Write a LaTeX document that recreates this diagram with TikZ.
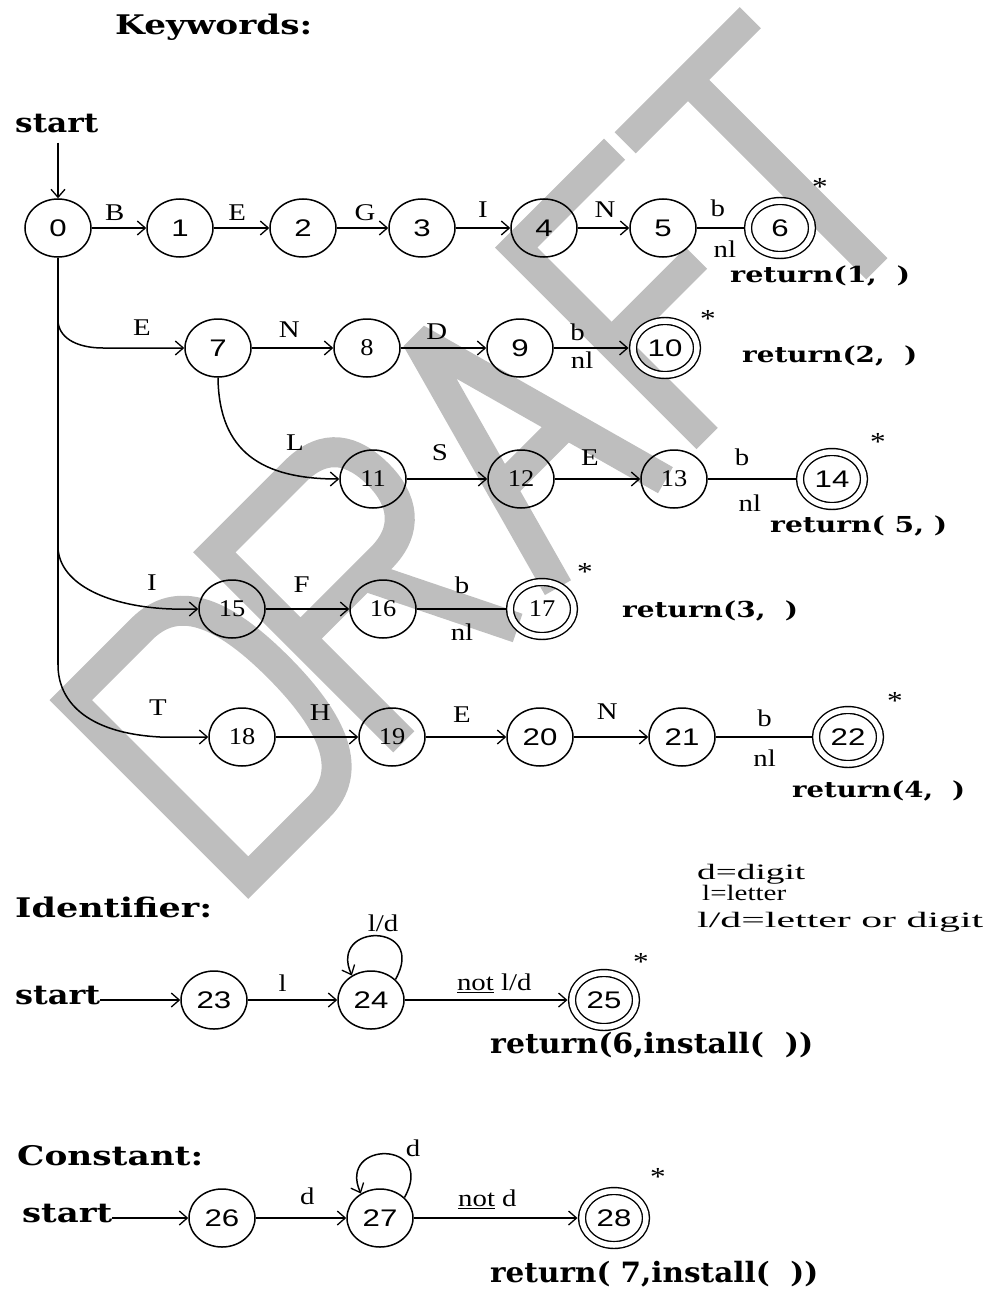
\documentclass[tikz,border=0pt]{standalone}
\usepackage{fontspec}
\usepackage{graphicx}
\setmainfont{Liberation Serif}
\newfontfamily\labfont{Liberation Serif}[FakeStretch=1.2]
\newfontfamily\sansnum{Liberation Sans}[FakeStretch=1.3]
\newfontfamily\serifnum{Liberation Serif}[FakeStretch=1.1]
\newfontfamily\headfont{DejaVu Serif}
\usetikzlibrary{arrows.meta,shapes.geometric}
\definecolor{wm}{RGB}{190,190,190}
\newcommand{\fitw}[2]{\resizebox{#1}{\height}{#2}}
\tikzset{
  st/.style={draw, ellipse, line width=1.5pt, minimum width=66pt, minimum height=58pt, inner sep=0pt,
    font=\sansnum\fontsize{24}{24}\selectfont},
  acc/.style={draw, ellipse, line width=1.4pt, double, double distance=5.5pt, minimum width=64pt,
    minimum height=54pt, inner sep=0pt, outer sep=4.5pt, font=\sansnum\fontsize{24}{24}\selectfont},
  sf/.style={font=\serifnum\fontsize{24}{24}\selectfont},
  arr/.style={line width=1.5pt, -{Straight Barb[length=8pt,width=14pt,line width=1.3pt]}},
  ln/.style={line width=1.5pt},
  lab/.style={font=\labfont\fontsize{24}{24}\selectfont, inner sep=0pt},
  hd/.style={font=\headfont\bfseries\fontsize{27}{27}\selectfont, inner sep=0pt},
  ret/.style={font=\headfont\bfseries\fontsize{22}{22}\selectfont, inner sep=0pt},
  retb/.style={font=\headfont\bfseries\fontsize{28}{28}\selectfont, inner sep=0pt},
  leg/.style={font=\labfont\fontsize{22}{22}\selectfont, inner sep=0pt},
  star/.style={font=\labfont\fontsize{26}{26}\selectfont, inner sep=0pt},
  wmk/.style={draw=wm, line width=30pt, line cap=butt, line join=miter},
}
\begin{document}
\begin{tikzpicture}[x=1pt,y=-1pt]
\useasboundingbox (0,0) rectangle (991,1289);

% ---- DRAFT watermark ----
\begin{scope}[x={(0.7071pt,0.7071pt)}, y={(-0.7071pt,0.7071pt)}, shift={(572.8pt,-572.8pt)}]
  % D
  \draw[wmk] (-445,14) -- (-445,265) -- (-345,265) .. controls (-295,265) and (-275,222) .. (-275,142)
     .. controls (-275,62) and (-295,14) .. (-345,14) -- cycle;
  % R
  \draw[wmk] (-239,0) -- (-239,268) -- (-125,268) .. controls (-82,268) and (-68,242) .. (-68,207)
     .. controls (-68,172) and (-85,146) .. (-125,146) -- (-239,146);
  \draw[wmk] (-150,146) -- (-78,0);
  % A
  \draw[wmk, line join=bevel] (-21,0) -- (55,276) -- (131,0);
  \draw[wmk] (9,110) -- (101,110);
  % F
  \draw[wmk] (329,270) -- (190,270) -- (190,0);
  \draw[wmk] (190,135) -- (310,135);
  % T
  \draw[wmk] (341,267) -- (518,267);
  \draw[wmk] (430,267) -- (430,0);
\end{scope}

% ---- headings ----
\node[hd, anchor=base west] (kw) at (115,35) {\fitw{197pt}{Keywords:}};
\node[hd, anchor=base west] (st1) at (15,133) {\fitw{83pt}{start}};
\node[hd, anchor=base west] (idh) at (15,917) {\fitw{197pt}{Identifier:}};
\node[hd, anchor=base west] (st2) at (15,1004) {\fitw{85pt}{start}};
\node[hd, anchor=base west] (coh) at (17,1165) {\fitw{186pt}{Constant:}};
\node[hd, anchor=base west] (st3) at (22,1222) {\fitw{90pt}{start}};

% ---- states ----
\node[st] (s0) at (58,228) {0};
\node[st] (s1) at (180,228) {1};
\node[st] (s2) at (303,228) {2};
\node[st] (s3) at (422,228) {3};
\node[st] (s4) at (544,228) {4};
\node[st] (s5) at (663,228) {5};
\node[acc] (s6) at (780,228) {6};
\node[st] (s7) at (218,348) {7};
\node[st,sf] (s8) at (367,348) {8};
\node[st] (s9) at (520,348) {9};
\node[acc] (s10) at (665,348) {10};
\node[st,sf] (s11) at (373,479) {11};
\node[st,sf] (s12) at (521,479) {12};
\node[st,sf] (s13) at (674,479) {13};
\node[acc] (s14) at (832,479) {14};
\node[st,sf] (s15) at (232,609) {15};
\node[st,sf] (s16) at (383,609) {16};
\node[acc,sf] (s17) at (542,609) {17};
\node[st,sf] (s18) at (242,737) {18};
\node[st,sf] (s19) at (392,737) {19};
\node[st] (s20) at (540,737) {20};
\node[st] (s21) at (682,737) {21};
\node[acc] (s22) at (848,737) {22};
\node[st] (s23) at (214,1000) {23};
\node[st] (s24) at (371,1000) {24};
\node[acc] (s25) at (604,1000) {25};
\node[st] (s26) at (222,1218) {26};
\node[st] (s27) at (380,1218) {27};
\node[acc] (s28) at (614,1218) {28};

% ---- stars ----
\node[star] (a6) at (820,187) {*};
\node[star] (a10) at (708,319) {*};
\node[star] (a14) at (878,442) {*};
\node[star] (a17) at (585,572) {*};
\node[star] (a22) at (895,701) {*};
\node[star] (a25) at (641,962) {*};
\node[star] (a28) at (658,1177) {*};

% ---- return labels ----
\node[ret, anchor=base west] (r1) at (730,282) {\fitw{180pt}{return(1,~~)}};
\node[ret, anchor=base west] (r2) at (742,362) {\fitw{175pt}{return(2,~~)}};
\node[ret, anchor=base west] (r5) at (770,532) {\fitw{177pt}{return(~5,~)}};
\node[ret, anchor=base west] (r3) at (622,617) {\fitw{176pt}{return(3,~~)}};
\node[ret, anchor=base west] (r4) at (792,797) {\fitw{173pt}{return(4,~~)}};
\node[retb, anchor=base west] (r6) at (490,1053) {\fitw{323pt}{return(6,install(~~))}};
\node[retb, anchor=base west] (r7) at (490,1282) {\fitw{328pt}{return(~7,install(~~))}};

% ---- legend ----
\node[leg, anchor=base west] (lg1) at (697,879) {\fitw{108pt}{d=digit}};
\node[leg, anchor=base west] (lg2) at (702,900) {\fitw{84pt}{l=letter}};
\node[leg, anchor=base west] (lg3) at (697,927) {\fitw{286pt}{l/d=letter or digit}};

% ---- keyword connectors ----
\draw[arr, shorten <=9pt] (st1.south -| s0.north) -- (s0.north);
\draw[arr] (s0) -- node[lab,pos=.42,yshift=15pt]{B} (s1);
\draw[arr] (s1) -- node[lab,pos=.42,yshift=15pt]{E} (s2);
\draw[arr] (s2) -- node[lab,pos=.55,yshift=15pt]{G} (s3);
\draw[arr] (s3) -- node[lab,pos=.5,yshift=18pt]{I} (s4);
\draw[arr] (s4) -- node[lab,pos=.53,yshift=18pt]{N} (s5);
\draw[ln] (s5) -- node[lab,pos=.45,yshift=20pt]{b} node[lab,pos=.6,yshift=-21pt]{nl} (s6);

\coordinate (j7) at (58,322);
\coordinate (k7) at (103,348);
\coordinate (j15) at (58,548);
\coordinate (k15) at (172,609);
\coordinate (j18) at (58,665);
\coordinate (k18) at (160,737);
\draw[ln] (s0.south) -- (j18);
\draw[arr] (j7) .. controls (60,340) and (80,348) .. (k7) -- (s7);
\node[lab] (lE7) at (142,328) {E};
\draw[arr] (s7) -- node[lab,pos=.46,yshift=18pt]{N} (s8);
\draw[arr] (s8) -- node[lab,pos=.42,yshift=16pt]{D} (s9);
\draw[arr] (s9) -- node[lab,pos=.32,yshift=16pt]{b} node[lab,pos=.38,yshift=-12pt]{nl} (s10);

\draw[arr] (s7.south) .. controls (219,452) and (262,479) .. (s11.west);
\node[lab] (lL) at (295,443) {L};
\draw[arr] (s11) -- node[lab,pos=.41,yshift=26pt]{S} (s12);
\draw[arr] (s12) -- node[lab,pos=.41,yshift=21pt]{E} (s13);
\draw[ln] (s13) -- node[lab,pos=.39,yshift=22pt]{b} node[lab,pos=.48,yshift=-24pt]{nl} (s14);

\draw[arr] (j15) .. controls (60,585) and (110,607) .. (k15) -- (s15);
\node[lab] (lI15) at (152,583) {I};
\draw[arr] (s15) -- node[lab,pos=.43,yshift=24pt]{F} (s16);
\draw[ln] (s16) -- node[lab,pos=.51,yshift=24pt]{b} node[lab,pos=.51,yshift=-23pt]{nl} (s17);

\draw[arr] (j18) .. controls (58,700) and (85,733) .. (k18) -- (s18);
\node[lab] (lT) at (158,708) {T};
\draw[arr] (s18) -- node[lab,pos=.54,yshift=24pt]{H} (s19);
\draw[arr] (s19) -- node[lab,pos=.45,yshift=22pt]{E} (s20);
\draw[arr] (s20) -- node[lab,pos=.45,yshift=25pt]{N} (s21);
\draw[ln] (s21) -- node[lab,pos=.51,yshift=19pt]{b} node[lab,pos=.51,yshift=-21pt]{nl} (s22);

% ---- identifier ----
\draw[arr] (st2.base east |- s23.west) -- (s23.west);
\draw[arr] (s23) -- node[lab,pos=.39,yshift=17pt]{l} (s24);
\draw[arr] (s24.40) .. controls (428,922) and (328,922) .. (s24.128);
\node[lab] (lld) at (383,923) {l/d};
\draw[arr] (s24) -- node[lab,pos=.55,yshift=17pt]{\underline{not} l/d} (s25);

% ---- constant ----
\draw[arr] (st3.base east |- s26.west) -- (s26.west);
\draw[arr] (s26) -- node[lab,pos=.57,yshift=22pt]{d} (s27);
\draw[arr] (s27.40) .. controls (437,1140) and (337,1140) .. (s27.128);
\node[lab] (ldd) at (413,1148) {d};
\draw[arr] (s27) -- node[lab,pos=.45,yshift=19pt]{\underline{not} d} (s28);
\end{tikzpicture}
\end{document}
